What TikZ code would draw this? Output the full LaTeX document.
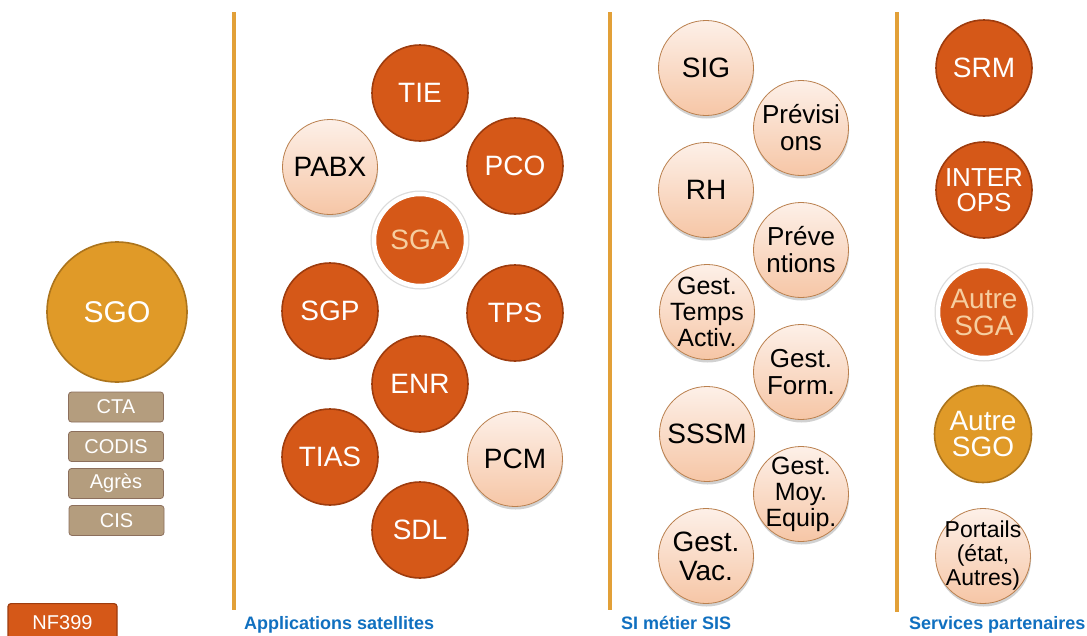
\documentclass[tikz,border=0pt]{standalone}
\usepackage{fontspec}
\setmainfont{Liberation Sans}
\usetikzlibrary{shadows}
\definecolor{dkfill}{RGB}{213,88,24}
\definecolor{dkline}{RGB}{158,60,14}
\definecolor{sgofill}{RGB}{224,154,40}
\definecolor{sgoline}{RGB}{172,116,28}
\definecolor{lttop}{RGB}{253,240,232}
\definecolor{ltbot}{RGB}{246,198,166}
\definecolor{ltline}{RGB}{186,128,78}
\definecolor{sgatext}{RGB}{246,206,160}
\definecolor{boxfill}{RGB}{180,157,126}
\definecolor{boxline}{RGB}{140,111,92}
\definecolor{vline}{RGB}{226,160,56}
\definecolor{labblue}{RGB}{16,112,192}
\begin{document}
\begin{tikzpicture}[x=1pt,y=-1pt,
  fs/.style={font=\fontsize{#1}{#1}\selectfont},
  fsl/.style 2 args={font=\fontsize{#1}{#2}\selectfont},
  wt/.style={text=white, align=center},
  bt/.style={text=black, align=center},
  st/.style={text=sgatext, align=center},
  dk/.style={circle, minimum size=96pt, inner sep=0pt, fill=dkfill, draw=dkline, line width=1.6pt},
  lt/.style={circle, minimum size=95pt, inner sep=0pt, draw=ltline, line width=0.8pt,
     top color=lttop, bottom color=ltbot,
     drop shadow={shadow xshift=0.6pt, shadow yshift=-3pt, opacity=0.18, fill=black}},
  sga/.style={circle, minimum size=92pt, inner sep=0pt, fill=dkfill, draw=white, line width=4.5pt,
     preaction={draw=black!14, line width=7pt},
     drop shadow={shadow xshift=0pt, shadow yshift=-2pt, opacity=0.12, fill=black}},
  sgo/.style={circle, inner sep=0pt, fill=sgofill, draw=sgoline, line width=1.6pt},
  sbox/.style={rectangle, rounded corners=3pt, minimum width=95pt, minimum height=30pt, inner sep=0pt,
     fill=boxfill, draw=boxline, line width=0.8pt, text=white, font=\fontsize{20}{20}\selectfont},
  vl/.style={draw=vline, line width=4pt},
  lab/.style={text=labblue, font=\fontsize{18}{18}\selectfont\bfseries, inner sep=0pt, anchor=base west}
]
\clip (0,0) rectangle (1087,635);
\useasboundingbox (0,0) rectangle (1087,635);
\fill[white] (0,0) rectangle (1087,635);

% vertical separators
\draw[vl] (234,12) -- (234,610);
\draw[vl] (610,12) -- (610,610);
\draw[vl] (897,12) -- (897,612);

% left column
\node[sgo, minimum size=140pt, label={[wt,fs=30]center:SGO}] (sgo) at (117,312) {};
\node[sbox] (cta) at (116,407) {CTA};
\node[sbox] (codis) at (116,446.5) {CODIS};
\node[sbox] (agres) at (116,483.5) {Agrès};
\node[sbox] (cis) at (116.5,520.5) {CIS};
\node[rectangle, rounded corners=3pt, minimum width=109pt, minimum height=44pt, inner sep=0pt,
      fill=dkfill, draw=dkline, line width=1.2pt, anchor=north,
      label={[wt,fs=20,yshift=3pt]center:NF399}] (nf) at (62.5,603) {};

% applications satellites
\node[dk, label={[wt,fs=28]center:TIE}] (tie) at (420,93) {};
\node[lt, label={[bt,fs=28]center:PABX}] (pabx) at (330,167) {};
\node[dk, label={[wt,fs=28]center:PCO}] (pco) at (515,166) {};
\node[sga, label={[st,fs=28]center:SGA}] (sga) at (420,240) {};
\node[dk, label={[wt,fs=28]center:SGP}] (sgp) at (330,311) {};
\node[dk, label={[wt,fs=28]center:TPS}] (tps) at (515,313) {};
\node[dk, label={[wt,fs=28]center:ENR}] (enr) at (420,384) {};
\node[dk, label={[wt,fs=28]center:TIAS}] (tias) at (330,457) {};
\node[lt, label={[bt,fs=28]center:PCM}] (pcm) at (515,459) {};
\node[dk, label={[wt,fs=28]center:SDL}] (sdl) at (420,530) {};

% SI metier SIS
\node[lt, label={[bt,fs=28]center:SIG}] (sig) at (706,68) {};
\node[lt, label={[bt,fsl={26}{27}]center:{Prévisi\\ons}}] (prev) at (801,128) {};
\node[lt, label={[bt,fs=28]center:RH}] (rh) at (706,190) {};
\node[lt, label={[bt,fsl={26}{27}]center:{Préve\\ntions}}] (preven) at (801,250) {};
\node[lt, label={[bt,fsl={25}{26}]center:{Gest.\\Temps\\Activ.}}] (gta) at (707,312) {};
\node[lt, label={[bt,fsl={26}{27}]center:{Gest.\\Form.}}] (gf) at (801,372) {};
\node[lt, label={[bt,fs=28]center:SSSM}] (sssm) at (707,434) {};
\node[lt, label={[bt,fsl={25}{26}]center:{Gest.\\Moy.\\Equip.}}] (gme) at (801,494) {};
\node[lt, label={[bt,fsl={28}{29}]center:{Gest.\\Vac.}}] (gv) at (706,556) {};

% services partenaires
\node[dk, label={[wt,fs=28]center:SRM}] (srm) at (984,68) {};
\node[dk, label={[wt,fsl={26}{25}]center:{INTER\\OPS}}] (interops) at (984,190) {};
\node[sga, label={[st,fsl={28}{27}]center:{Autre\\SGA}}] (asga) at (984,312) {};
\node[sgo, minimum size=97pt, label={[wt,fsl={28}{26}]center:{Autre\\SGO}}] (asgo) at (983,434) {};
\node[lt, label={[bt,fsl={23}{24}]center:{Portails\\(état,\\Autres)}}] (port) at (983,556) {};

% column labels
\node[lab] (l1) at (244,629) {Applications satellites};
\node[lab] (l2) at (621,629) {SI métier SIS};
\node[lab] (l3) at (909,629) {Services partenaires};
\end{tikzpicture}
\end{document}
